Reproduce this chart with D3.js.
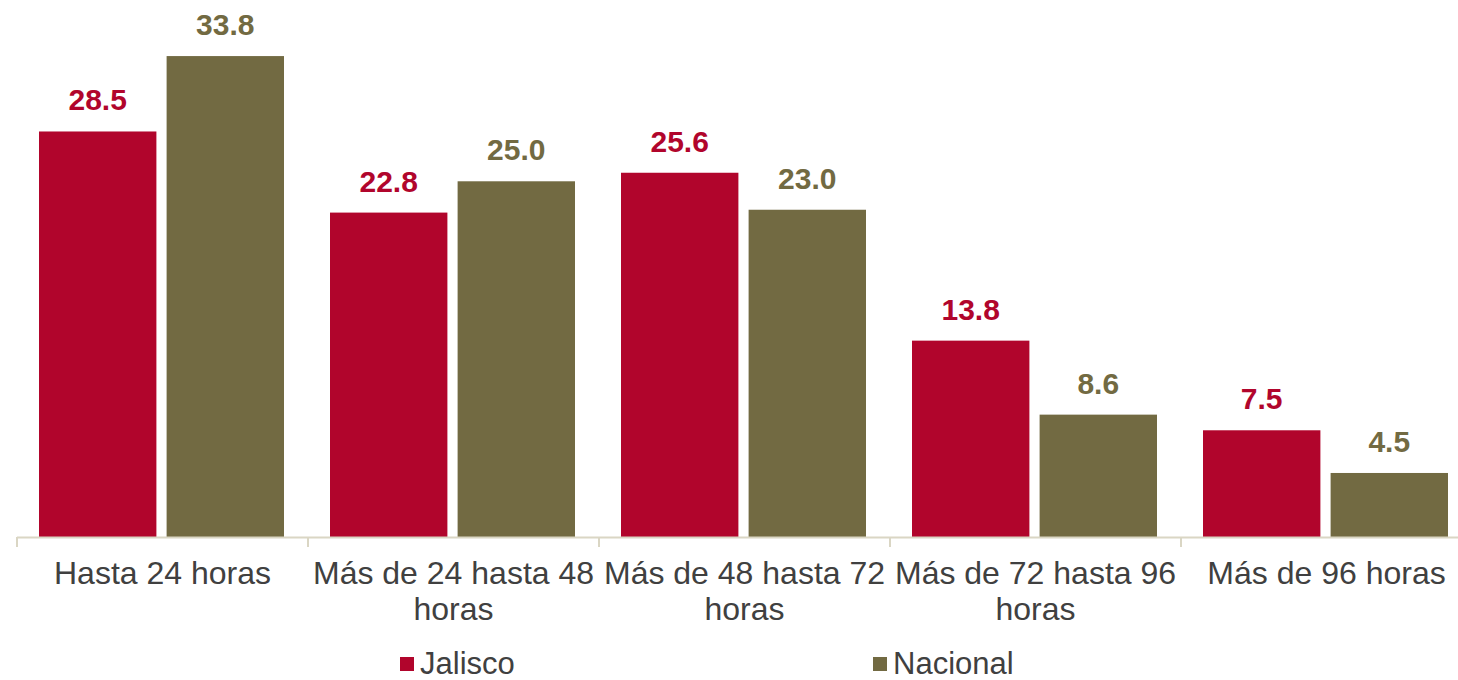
<!DOCTYPE html>
<html>
<head>
<meta charset="utf-8">
<script src="https://cdn.jsdelivr.net/npm/d3@7"></script>
<style>
  body { margin: 0; background: #fff; }
  svg { font-family: "Liberation Sans", Arial, sans-serif; display: block; }
</style>
</head>
<body>
<div id="chart"></div>
<script>
// Data
const categories = [
  "Hasta 24 horas",
  "Más de 24 hasta 48 horas",
  "Más de 48 hasta 72 horas",
  "Más de 72 hasta 96 horas",
  "Más de 96 horas"
];
const seriesNames = ["Jalisco", "Nacional"];
const jalisco = [28.5, 22.8, 25.6, 13.8, 7.5];
const nacional = [33.8, 25.0, 23.0, 8.6, 4.5];
const colors = ["#B1052C", "#726A42"];

const width = 1458;
const height = 680;
const baseline = 537;

const values = [jalisco, nacional];

const svg = d3.create("svg").attr("width", width).attr("height", height);
// attach early so text can be measured for wrapping
document.getElementById("chart").appendChild(svg.node());

// Outer band scale (groups)
const x = d3.scaleBand(categories, [17, 17 + 291 * categories.length])
  .paddingInner(0).paddingOuter(0);

// Inner band scale (series within a group)
const xs = d3.scaleBand(seriesNames, [22, 267]).paddingInner(0.08);

const y = d3.scaleLinear([0, 35], [baseline, 39]);

// Bars
const groups = svg.append("g")
  .selectAll("g")
  .data(categories)
  .join("g")
  .attr("transform", (d) => `translate(${x(d)},0)`);

groups.selectAll("rect")
  .data((d, i) => seriesNames.map((s, k) => ({ s, k, v: values[k][i] })))
  .join("rect")
  .attr("x", (d) => xs(d.s))
  .attr("y", (d) => y(d.v))
  .attr("width", xs.bandwidth())
  .attr("height", (d) => baseline - y(d.v))
  .attr("fill", (d) => colors[d.k]);

// Value labels
groups.selectAll("text.val")
  .data((d, i) => seriesNames.map((s, k) => ({ s, k, v: values[k][i] })))
  .join("text")
  .attr("class", "val")
  .attr("x", (d) => xs(d.s) + xs.bandwidth() / 2)
  .attr("y", (d) => y(d.v) - 21)
  .attr("text-anchor", "middle")
  .attr("font-size", 30)
  .attr("font-weight", "bold")
  .attr("fill", (d) => colors[d.k])
  .text((d) => d.v.toFixed(1));

// X axis
const axis = svg.append("g")
  .attr("transform", `translate(0,${baseline})`)
  .call(d3.axisBottom(x).tickSize(0).tickPadding(0));

axis.select(".domain").remove();
axis.append("line")
  .attr("x1", 17).attr("x2", width)
  .attr("y1", 0.5).attr("y2", 0.5)
  .attr("stroke", "#DAD6C4").attr("stroke-width", 2);

axis.selectAll(".tick line").remove();
const tickPos = d3.range(categories.length + 1).map((i) => 17 + 291 * i);
axis.selectAll(".sep")
  .data(tickPos)
  .join("line")
  .attr("class", "sep")
  .attr("x1", (d) => d).attr("x2", (d) => d)
  .attr("y1", 0).attr("y2", 10)
  .attr("stroke", "#DAD6C4").attr("stroke-width", 2);

axis.selectAll(".tick text")
  .attr("font-size", 32)
  .attr("fill", "#404040")
  .attr("font-family", "Liberation Sans, Arial, sans-serif")
  .attr("y", 47)
  .attr("dy", 0)
  .call(wrap, 291);

function wrap(text, w) {
  text.each(function () {
    const t = d3.select(this);
    const words = t.text().split(/\s+/);
    const yy = t.attr("y");
    t.text(null);
    let line = [];
    let lineNo = 0;
    let tspan = t.append("tspan").attr("x", 0).attr("y", yy);
    for (const word of words) {
      line.push(word);
      tspan.text(line.join(" "));
      if (tspan.node().getComputedTextLength() > w && line.length > 1) {
        line.pop();
        tspan.text(line.join(" "));
        line = [word];
        lineNo++;
        tspan = t.append("tspan").attr("x", 0).attr("y", +yy + lineNo * 36).text(word);
      }
    }
  });
}

// Legend
const legendX = [400, 873];
const legend = svg.append("g")
  .selectAll("g")
  .data(seriesNames)
  .join("g")
  .attr("transform", (d, i) => `translate(${legendX[i]},657)`);

legend.append("rect")
  .attr("width", 14).attr("height", 14)
  .attr("fill", (d, i) => colors[i]);

legend.append("text")
  .attr("x", 20).attr("y", 17)
  .attr("font-size", 31)
  .attr("fill", "#404040")
  .text((d) => d);
</script>
</body>
</html>
